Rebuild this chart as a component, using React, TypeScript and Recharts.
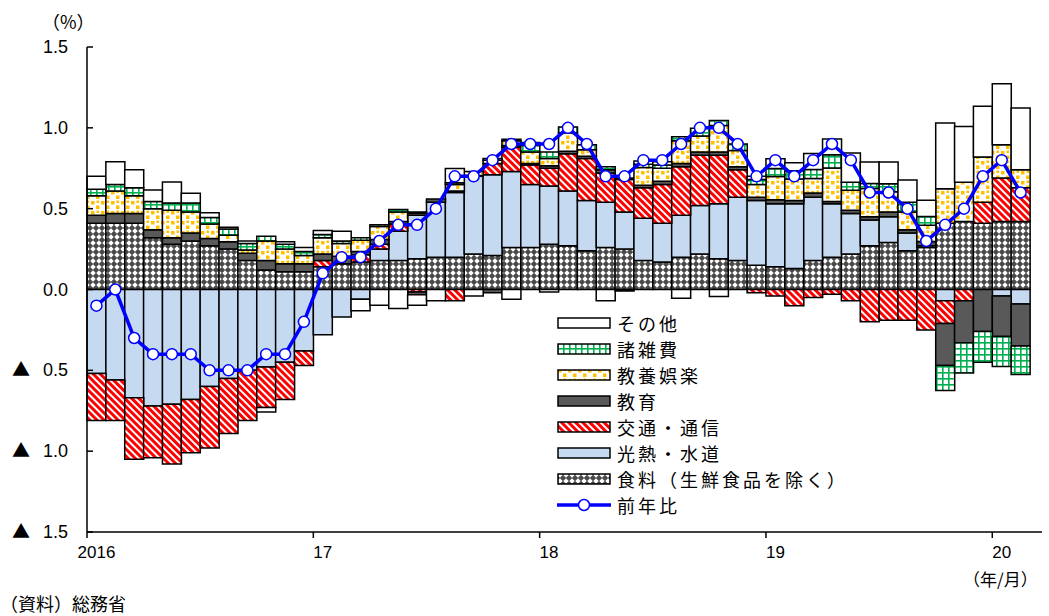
import { ComposedChart, Bar, Line, XAxis, YAxis } from 'recharts';

// monthly, 2016/1 - 2020/2
const months = [
  '2016/1', '2016/2', '2016/3', '2016/4', '2016/5', '2016/6', '2016/7', '2016/8', '2016/9', '2016/10', '2016/11', '2016/12',
  '2017/1', '2017/2', '2017/3', '2017/4', '2017/5', '2017/6', '2017/7', '2017/8', '2017/9', '2017/10', '2017/11', '2017/12',
  '2018/1', '2018/2', '2018/3', '2018/4', '2018/5', '2018/6', '2018/7', '2018/8', '2018/9', '2018/10', '2018/11', '2018/12',
  '2019/1', '2019/2', '2019/3', '2019/4', '2019/5', '2019/6', '2019/7', '2019/8', '2019/9', '2019/10', '2019/11', '2019/12',
  '2020/1', '2020/2',
];

const food = [
  0.41, 0.41, 0.41, 0.32, 0.28, 0.30, 0.27, 0.25, 0.18, 0.12, 0.11, 0.11,
  0.14, 0.16, 0.17, 0.18, 0.18, 0.19, 0.20, 0.20, 0.22, 0.21, 0.26, 0.26,
  0.28, 0.27, 0.24, 0.26, 0.25, 0.18, 0.17, 0.20, 0.22, 0.19, 0.18, 0.15,
  0.14, 0.13, 0.18, 0.20, 0.22, 0.27, 0.29, 0.24, 0.26, 0.41, 0.42, 0.41,
  0.42, 0.42,
];
const energy = [
  -0.52, -0.56, -0.67, -0.72, -0.71, -0.68, -0.60, -0.55, -0.50, -0.48, -0.45, -0.38,
  -0.28, -0.17, -0.06, 0.07, 0.18, 0.27, 0.34, 0.40, 0.48, 0.50, 0.47, 0.39,
  0.36, 0.34, 0.31, 0.28, 0.23, 0.26, 0.24, 0.26, 0.30, 0.34, 0.39, 0.40,
  0.39, 0.40, 0.39, 0.33, 0.25, 0.16, 0.16, 0.11, 0.01, -0.07, 0, 0,
  -0.04, -0.09,
];
const transport = [
  -0.29, -0.25, -0.38, -0.32, -0.37, -0.33, -0.38, -0.34, -0.31, -0.25, -0.23, -0.09,
  0.04, 0, 0.045, 0.03, 0.045, -0.015, 0, -0.07, 0, 0.07, 0.15, 0.12,
  0.11, 0.23, 0.26, 0.18, 0.20, 0.19, 0.24, 0.30, 0.31, 0.30, 0.17, -0.02,
  -0.04, -0.10, -0.05, -0.03, -0.07, -0.20, -0.19, -0.19, -0.25, -0.14, -0.07, 0.13,
  0.27, 0.21,
];
const education = [
  0.05, 0.06, 0.06, 0.05, 0.04, 0.05, 0.045, 0.045, 0.045, 0.06, 0.05, 0.05,
  0.04, 0.045, 0.02, 0.03, 0.015, -0.017, 0.02, 0.01, 0.005, -0.02, 0.01, 0.01,
  0.015, 0.015, 0.015, 0.02, 0.01, 0.015, 0.02, 0.02, 0.02, 0.02, 0.02, 0.02,
  0.025, 0.02, 0.027, 0.015, 0.02, 0.02, 0.03, 0.02, 0.027, -0.26, -0.26, -0.26,
  -0.25, -0.26,
];
const culture = [
  0.12, 0.14, 0.11, 0.13, 0.17, 0.13, 0.09, 0.04, 0.02, 0.12, 0.09, 0.05,
  0.10, 0.08, 0.07, 0.08, 0.06, 0.01, 0, 0.04, 0.025, 0.02, 0.03, 0.07,
  0.045, 0.115, 0.04, 0, 0, 0.11, 0.08, 0.14, 0.10, 0.165, 0.10, 0.08,
  0.144, 0.134, 0.09, 0.206, 0.124, 0.175, 0.124, 0.11, 0.10, 0.213, 0.244, 0.28,
  0.206, 0.111,
];
const misc = [
  0.04, 0.04, 0.05, 0.045, 0.045, 0.055, 0.04, 0.04, 0.04, 0.03, 0.03, 0.025,
  0.02, 0.015, 0.015, 0.01, 0.015, 0.01, 0, 0.01, 0, 0.01, 0.01, 0.04,
  0.04, 0.035, 0.03, 0.02, 0, 0.02, 0.02, 0.025, 0.047, 0.03, 0.04, 0.03,
  0.05, 0.05, 0.055, 0.083, 0.05, 0.03, 0.05, 0.06, 0.055, -0.155, -0.186, -0.19,
  -0.186, -0.175,
];
const other = [
  0.08, 0.14, 0.11, 0.07, 0.13, 0.06, 0.03, 0.01, 0.015, -0.027, 0.015, 0.025,
  0.025, 0.06, -0.072, -0.097, -0.118, -0.066, -0.07, 0.088, -0.04, 0, -0.06, 0.02,
  -0.015, 0, 0, -0.07, -0.01, 0.02, 0.02, -0.054, 0, -0.043, 0, 0.02,
  0.06, 0.05, 0.10, 0.097, 0.18, 0.134, 0.134, 0.138, 0.10, 0.407, 0.345, 0.314,
  0.376, 0.382,
];
// 前年比
const yoy = [
  -0.1, 0.0, -0.3, -0.4, -0.4, -0.4, -0.5, -0.5, -0.5, -0.4, -0.4, -0.2,
  0.1, 0.2, 0.2, 0.3, 0.4, 0.4, 0.5, 0.7, 0.7, 0.8, 0.9, 0.9,
  0.9, 1.0, 0.9, 0.7, 0.7, 0.8, 0.8, 0.9, 1.0, 1.0, 0.9, 0.7,
  0.8, 0.7, 0.8, 0.9, 0.8, 0.6, 0.6, 0.5, 0.3, 0.4, 0.5, 0.7,
  0.8, 0.6,
];

const yTicks = [-1.5, -1, -0.5, 0, 0.5, 1, 1.5];

// stacking order, bottom first
const SERIES = [
  { key: 'food', name: '食料（生鮮食品を除く）', fill: 'url(#pFood)' },
  { key: 'energy', name: '光熱・水道', fill: '#c5d9f1' },
  { key: 'transport', name: '交通・通信', fill: 'url(#pTrans)' },
  { key: 'education', name: '教育', fill: '#595959' },
  { key: 'culture', name: '教養娯楽', fill: 'url(#pCult)' },
  { key: 'misc', name: '諸雑費', fill: 'url(#pMisc)' },
  { key: 'other', name: 'その他', fill: '#ffffff' },
];

const data = months.map((m, i) => ({
  month: m,
  food: food[i],
  energy: energy[i],
  transport: transport[i],
  education: education[i],
  culture: culture[i],
  misc: misc[i],
  other: other[i],
  yoy: yoy[i],
}));

const JP = '"Noto Sans CJK JP", "Noto Sans", sans-serif';
const NUM = '"Liberation Sans", Arial, sans-serif';

const Patterns = () => (
  <svg width={0} height={0} style={{ position: 'absolute' }}>
    <defs>
      <pattern id="pFood" patternUnits="userSpaceOnUse" width={6} height={6}>
        <rect width={6} height={6} fill="#4a4a4a" />
        <path d="M3 0.3 L5.7 3 L3 5.7 L0.3 3 Z" fill="#ffffff" />
      </pattern>
      <pattern id="pTrans" patternUnits="userSpaceOnUse" width={5} height={5} patternTransform="rotate(-45)">
        <rect width={5} height={5} fill="#ffffff" />
        <rect width={3} height={5} fill="#ff0000" />
      </pattern>
      <pattern id="pCult" patternUnits="userSpaceOnUse" width={10} height={10}>
        <rect width={10} height={10} fill="#ffffff" />
        <rect x={1} y={1} width={3.5} height={3.5} fill="#ffc000" />
        <rect x={6} y={5.5} width={3.5} height={3.5} fill="#ffc000" />
        <rect x={6.5} y={0.5} width={2.5} height={2.5} fill="#ffc000" />
      </pattern>
      <pattern id="pMisc" patternUnits="userSpaceOnUse" width={6} height={6}>
        <rect width={6} height={6} fill="#ffffff" />
        <rect width={6} height={1.6} fill="#00b050" />
        <rect width={1.6} height={6} fill="#00b050" />
      </pattern>
    </defs>
  </svg>
);

const YTick = (props: any) => {
  const { x, y, payload } = props;
  const v = payload.value as number;
  const label = Math.abs(v).toFixed(1);
  return (
    <g>
      <line x1={x} x2={x + 6} y1={y} y2={y} stroke="#000" strokeWidth={1.5} />
      {v < 0 && (
        <text x={12} y={y + 6} fontSize={18} fontFamily={JP} fill="#000">▲</text>
      )}
      <text x={x - 19} y={y + 6} textAnchor="end" fontSize={18} fontFamily={NUM} fill="#000">
        {label}
      </text>
    </g>
  );
};

const XTick = (props: any) => {
  const { x, y, payload } = props;
  const [yr, mo] = String(payload.value).split('/');
  if (mo !== '1') return null;
  const half = payload.offset || 9.43;
  const label = yr === '2016' ? yr : yr.slice(2);
  return (
    <g>
      <line x1={x - half} x2={x - half} y1={y} y2={y + 6} stroke="#000" strokeWidth={1.5} />
      <text x={x} y={y + 26} textAnchor="middle" fontSize={17} fontFamily={NUM} fill="#000">
        {label}
      </text>
    </g>
  );
};

const LegendBox = () => {
  const rows = [...SERIES].reverse();
  const text = { fontSize: 18, letterSpacing: 3, lineHeight: '26px', whiteSpace: 'nowrap' as const };
  return (
    <div style={{ position: 'absolute', left: 557, top: 310, fontFamily: JP, color: '#000' }}>
      {rows.map((s) => (
        <div key={s.key} style={{ display: 'flex', alignItems: 'center', height: 26 }}>
          <svg width={56} height={14} style={{ marginRight: 4 }}>
            <rect x={1} y={2} width={52} height={10} fill={s.fill} stroke="#000" strokeWidth={1.5} />
          </svg>
          <span style={text}>{s.name}</span>
        </div>
      ))}
      <div style={{ display: 'flex', alignItems: 'center', height: 26 }}>
        <svg width={56} height={14} style={{ marginRight: 4 }}>
          <line x1={0} x2={54} y1={7} y2={7} stroke="#0000ff" strokeWidth={3.5} />
          <circle cx={27} cy={7} r={5.5} fill="#fff" stroke="#0000ff" strokeWidth={1.5} />
        </svg>
        <span style={text}>前年比</span>
      </div>
    </div>
  );
};

export default function App() {
  return (
    <div style={{ position: 'absolute', left: 0, top: 0, width: 1049, height: 616, background: '#fff' }}>
      <Patterns />
      <ComposedChart
        width={1049}
        height={616}
        data={data}
        stackOffset="sign"
        barCategoryGap={0}
        barGap={0}
        margin={{ top: 47, right: 7, bottom: 0, left: 0 }}
      >
        <XAxis
          dataKey="month"
          interval={0}
          height={84}
          tickLine={false}
          tickSize={0}
          tickMargin={0}
          tick={<XTick />}
          axisLine={{ stroke: '#000', strokeWidth: 1.5 }}
          padding={{ left: 0, right: 12 }}
        />
        <YAxis
          width={87}
          domain={[-1.5, 1.5]}
          ticks={yTicks}
          interval={0}
          tickLine={false}
          tickSize={0}
          tickMargin={0}
          tick={<YTick />}
          axisLine={{ stroke: '#000', strokeWidth: 1.5 }}
          allowDataOverflow
        />
        {SERIES.map((s) => (
          <Bar
            key={s.key}
            dataKey={s.key}
            name={s.name}
            stackId="a"
            fill={s.fill}
            stroke="#000"
            strokeWidth={1.5}
            isAnimationActive={false}
          />
        ))}
        <Line
          dataKey="yoy"
          name="前年比"
          stroke="#0000ff"
          strokeWidth={3.5}
          dot={{ r: 5.5, fill: '#fff', stroke: '#0000ff', strokeWidth: 1.5 }}
          isAnimationActive={false}
        />
      </ComposedChart>
      <div style={{ position: 'absolute', left: 42, top: 8, fontFamily: JP, fontSize: 18 }}>（%）</div>
      <LegendBox />
      <div style={{ position: 'absolute', left: 963, top: 566, fontFamily: JP, fontSize: 17 }}>（年/月）</div>
      <div style={{ position: 'absolute', left: 0, top: 590, fontFamily: JP, fontSize: 18 }}>（資料）総務省</div>
    </div>
  );
}
